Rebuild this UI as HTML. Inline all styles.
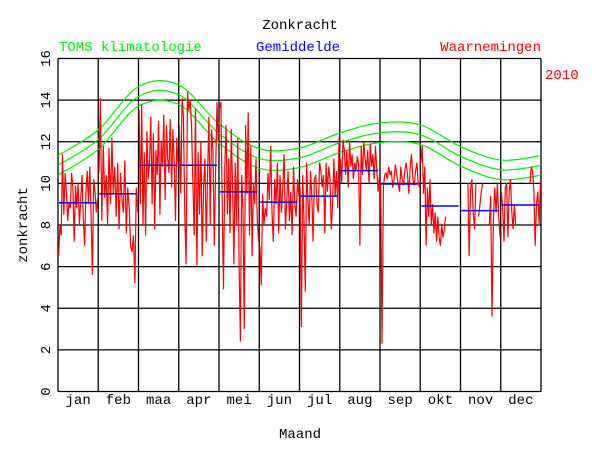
<!DOCTYPE html>
<html><head><meta charset="utf-8"><style>
body{margin:0;background:#fff}
svg{display:block}
text{font-family:"Liberation Mono",monospace;font-size:14px}
</style></head><body>
<svg id="chart" width="600" height="450" viewBox="0 0 600 450">
<text x="300" y="29" text-anchor="middle" fill="#000">Zonkracht</text>
<text x="59" y="51" fill="#00ee00">TOMS klimatologie</text>
<text x="256" y="51" fill="#0000ff">Gemiddelde</text>
<text x="541" y="51" text-anchor="end" fill="#ff0000">Waarnemingen</text>
<text x="545" y="79" fill="#ff0000">2010</text>
<text x="300" y="438" text-anchor="middle">Maand</text>
<text transform="translate(27,225) rotate(-90)" text-anchor="middle">zonkracht</text>
<g id="grid"></g><g id="green"></g><g id="red"></g><g id="blue"></g><g id="axes"></g>
</svg>
<script>
const months=["jan","feb","maa","apr","mei","jun","jul","aug","sep","okt","nov","dec"];
const yTicks=[0,2,4,6,8,10,12,14,16];
const monthlyMean=[9.07,9.5,10.87,10.87,9.59,9.1,9.39,10.61,9.97,8.91,8.69,8.96];
const climMid=[10.87,12.1,14.18,14.26,12.4,11.2,11.23,11.95,12.43,12.34,11.3,10.65,10.86];
const climSpread=[0.47];
const N=null;
const obsJan=[6.5,8,7.5,11.4,8.5,10.5,9.6,8.2,9.1,8.8,10.5,9.8,7.2,9.9,8.8,10.0,8.0,9.2,10.4,8.3,7.0,9.5,10.6,9.0,10.8,8.4,5.6,10.2,9.6,8.6,9.3];
const obsFeb=[10.5,14.1,8.2,11.8,9.3,10.4,8.0,11.7,9.0,12.2,9.5,10.8,8.4,11.0,7.8,10.5,9.2,8.6,11.1,7.6,9.8,8.8,7.0,6.7,7.5,5.2,9.8,8.6];
const obsMar=[13.5,9.0,13.8,8.0,11.5,7.5,12.5,10.2,11.0,13.2,9.0,12.4,7.8,11.6,10.4,13.0,8.5,12.0,10.8,13.3,9.2,12.8,11.2,10.5,13.1,9.8,12.6,11.0,8.2,12.2,10.8];
const obsApr=[12.8,9.5,14.1,13.2,8.5,6.1,14.4,13.5,14.0,12.8,10.2,7.5,13.6,6.0,11.5,8.5,12.0,6.5,9.8,11.2,7.2,10.5,13.2,8.0,12.6,11.5,7.0,10.5,13.9,12.0];
const obsMei=[13.6,13.9,9.0,4.9,10.8,12.8,8.5,11.2,7.6,12.6,9.8,6.1,11.0,8.0,12.2,6.1,2.4,10.4,8.8,3.0,12.8,9.5,13.4,7.5,11.8,6.5,10.0,9.0,11.2,8.2,7.2];
const obsJun=[7.0,5.1,9.5,8.0,8.8,8.4,10.5,9.2,11.8,8.6,7.2,10.2,9.0,11.0,7.6,10.4,8.6,9.8,11.4,7.8,9.2,10.6,8.2,9.6,7.5,10.8,9.0,8.4,10.2,9.4];
const obsJul=[9.8,3.1,10.4,8.2,4.8,11.0,9.2,8.0,10.6,9.4,7.2,10.2,10.4,9.0,8.6,11.0,10.6,9.8,10.4,7.6,11.0,9.6,10.8,10.2,7.8,9.0,11.2,9.4,10.6,8.8,12.2];
const obsAug=[11.2,10.0,12.1,11.6,10.4,11.6,9.8,12.0,10.8,11.4,10.2,11.0,10.6,11.3,10.9,7.0,11.8,10.4,12.0,11.2,10.6,11.6,10.0,11.9,10.8,11.4,10.2,11.8,10.6,9.6,10.4];
const obsSep=[10.0,2.3,9.8,10.4,10.5,10.2,10.8,10.4,10.6,9.8,10.2,10.9,10.4,10.0,9.6,10.8,10.2,9.9,10.6,11.0,10.4,9.5,10.8,11.4,10.2,9.9,10.6,11.0,10.0,9.8];
const obsOkt=[11.0,11.8,9.5,10.8,7.0,9.8,8.4,10.2,8.0,9.0,7.6,8.6,7.2,8.4,7.4,7.0,8.0,7.4,7.8,8.4,N,N,N,N,N,N,N,N,N,N,N];
const obsNov=[N,N,N,N,N,10.0,6.5,9.8,10.2,8.6,7.8,10.0,N,8.4,9.0,9.6,10.0,N,N,N,N,8.0,9.4,3.6,8.2,9.8,8.6,10.0,8.4,7.4];
const obsDec=[9.6,8.8,7.2,9.8,10.0,7.4,9.6,10.2,8.6,7.8,9.0,8.0,N,N,N,N,N,N,N,N,N,N,10.0,10.8,10.6,9.6,7.0,9.0,9.6,8.0,10.0];
const obsAll=[obsJan,obsFeb,obsMar,obsApr,obsMei,obsJun,obsJul,obsAug,obsSep,obsOkt,obsNov,obsDec];

const X0=58,X1=541,Y0=391.5,Y1=58.5,NS="http://www.w3.org/2000/svg";
const xM=m=>X0+m*(X1-X0)/12;
const y=v=>Y0-v*(Y0-Y1)/16;
function mk(tag,attrs,parent){const e=document.createElementNS(NS,tag);for(const k in attrs)e.setAttribute(k,attrs[k]);parent.appendChild(e);return e;}
const grid=document.getElementById('grid'),axes=document.getElementById('axes');
yTicks.forEach(t=>{
  const l=mk('line',{x1:X0,x2:X1,y1:y(t),y2:y(t),stroke:'#000','stroke-width':1.3},grid);
  
  
  const tx=mk('text',{transform:`translate(${50},${y(t)}) rotate(-90)`,'text-anchor':'middle'},axes);
  tx.textContent=t;
  
  
});
for(let m=0;m<=12;m++){
  const l=mk('line',{x1:xM(m),x2:xM(m),y1:Y1,y2:Y0,stroke:'#000','stroke-width':1.3},grid);
  
  
}
months.forEach((mn,i)=>{
  const tx=mk('text',{x:xM(i+0.5),y:404,'text-anchor':'middle'},axes);
  tx.textContent=mn;
  
  
});
const green=document.getElementById('green');
[-1,0,1].forEach(s=>{
  const P=climMid.map((v,i)=>[xM(i),y(v+s*climSpread[0])]);
  let d=`M${P[0][0]},${P[0][1]}`;
  for(let i=0;i<P.length-1;i++){
    const p0=P[Math.max(0,i-1)],p1=P[i],p2=P[i+1],p3=P[Math.min(P.length-1,i+2)];
    d+=` C${p1[0]+(p2[0]-p0[0])/6},${p1[1]+(p2[1]-p0[1])/6} ${p2[0]-(p3[0]-p1[0])/6},${p2[1]-(p3[1]-p1[1])/6} ${p2[0]},${p2[1]}`;
  }
  const p=mk('path',{d,fill:'none',stroke:'#00ee00','stroke-width':1.2},green);
  
  
});
const red=document.getElementById('red');
obsAll.forEach((arr,m)=>{
  let d='',pen=false;
  arr.forEach((v,i)=>{
    if(v===null){pen=false;return;}
    const px=xM(m+(i+0.5)/arr.length),py=y(v);
    d+=(pen?'L':'M')+px.toFixed(1)+','+py.toFixed(1)+' ';pen=true;
  });
  const p=mk('path',{d,fill:'none',stroke:'#ff0000','stroke-width':1.2},red);
  
  
});
const blue=document.getElementById('blue');
monthlyMean.forEach((v,m)=>{
  const l=mk('line',{x1:xM(m)+1,x2:xM(m+1)-2,y1:y(v),y2:y(v),stroke:'#0000ff','stroke-width':1.5},blue);
  
  
});
</script>
</body></html>
